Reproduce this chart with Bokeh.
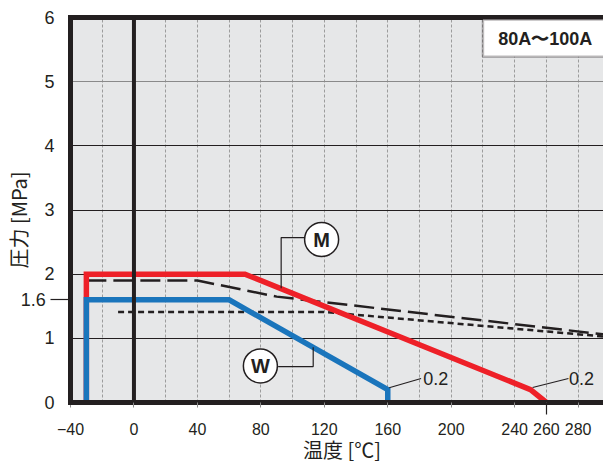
from bokeh.plotting import figure
from bokeh.models import Range1d, LinearAxis, FixedTicker, Span, BoxAnnotation, Label, Grid
from bokeh.core.properties import value
from bokeh.embed import file_html
from bokeh.resources import INLINE

# ---- data ----
m_temp = [-30, -30, 70, 250, 260]
m_pres = [0, 2.0, 2.0, 0.2, 0]
w_temp = [-30, -30, 60, 160, 160]
w_pres = [0, 1.6, 1.6, 0.2, 0]
long_dash_temp = [-30, 40, 90, 300]
long_dash_pres = [1.9, 1.9, 1.65, 1.05]
short_dash_temp = [-10, 120, 300]
short_dash_pres = [1.41, 1.41, 1.02]

x_ticks = [-40, 0, 40, 80, 120, 160, 200, 240, 260, 280]
x_grid = [-20, 20, 40, 60, 80, 100, 120, 140, 160, 180, 200, 220, 240, 260, 280]
y_ticks = [0, 1, 1.6, 2, 3, 4, 5, 6]
y_grid_dark = [1, 2, 3, 4]
y_grid_light = [5]

# annotation anchors
m_circle = (118.3, 2.54)
w_circle = (79.7, 0.57)
m_leader_x = [107.3, 92.8, 92.8]
m_leader_y = [2.57, 2.57, 1.78]
w_leader_x = [90.9, 113.0, 113.0]
w_leader_y = [0.56, 0.56, 0.86]
w_end_leader_x = [160.9, 181.0]
w_end_leader_y = [0.23, 0.374]
m_end_leader_x = [251.3, 273.9]
m_end_leader_y = [0.234, 0.374]
end_label_x = [182.3, 274.3]
end_label_y = [0.374, 0.374]
end_label_text = ["0.2", "0.2"]

DARK = "#231f20"
RED = "#ee2028"
BLUE = "#1a75bc"
NUM_FONT = "Liberation Sans"
CJK_FONT = "'Noto Sans CJK JP', sans-serif"

p = figure(width=603, height=466, x_range=Range1d(-40, 296), y_range=Range1d(0, 6),
           output_backend="svg", toolbar_location=None,
           min_border_left=68, min_border_right=0, min_border_top=17, min_border_bottom=64)
p.background_fill_color = "#e6e7e8"
p.border_fill_color = "white"
p.outline_line_color = None

# grids
p.xgrid.ticker = FixedTicker(ticks=x_grid)
p.xgrid.grid_line_color = "#9c9c9c"
p.xgrid.grid_line_dash = "3 2"
p.xgrid.grid_line_width = 1
p.ygrid.ticker = FixedTicker(ticks=y_grid_dark)
p.ygrid.grid_line_color = DARK
p.ygrid.grid_line_width = 1
p.add_layout(Grid(dimension=1, ticker=FixedTicker(ticks=y_grid_light),
                  grid_line_color="#8a8a8a", grid_line_width=1))

# x axis
xa = p.xaxis[0]
xa.ticker = FixedTicker(ticks=x_ticks, minor_ticks=[260])
xa.major_label_overrides = {-40: "\u221240"}
xa.axis_line_width = 5
xa.axis_line_color = DARK
xa.axis_line_cap = "square"
xa.major_tick_in = 0
xa.major_tick_out = 5
xa.major_tick_line_color = "#8a8a8a"
xa.minor_tick_in = 0
xa.minor_tick_out = 12
xa.minor_tick_line_color = DARK
xa.minor_tick_line_width = 1.2
xa.major_label_text_font = NUM_FONT
xa.major_label_text_font_size = "16px"
xa.major_label_text_color = DARK
xa.major_label_standoff = 8
xa.axis_label = "\u2002温度 [℃]"
xa.axis_label_text_font = CJK_FONT
xa.axis_label_text_font_size = "20px"
xa.axis_label_text_font_style = "normal"
xa.axis_label_text_color = DARK
xa.axis_label_standoff = -3

# y axis
ya = p.yaxis[0]
ya.ticker = FixedTicker(ticks=y_ticks, minor_ticks=[1.6])
ya.major_label_overrides = {1.6: "1.6\u00a0\u2009"}
ya.axis_line_width = 5
ya.axis_line_color = DARK
ya.axis_line_cap = "square"
ya.major_tick_in = 0
ya.major_tick_out = 0
ya.minor_tick_in = 0
ya.minor_tick_out = 20
ya.minor_tick_line_color = DARK
ya.minor_tick_line_width = 1.2
ya.major_label_text_font = NUM_FONT
ya.major_label_text_font_size = "18px"
ya.major_label_text_color = DARK
ya.major_label_standoff = -4
ya.axis_label = "圧力 [MPa]\u3000"
ya.axis_label_text_font = CJK_FONT
ya.axis_label_text_font_size = "20px"
ya.axis_label_text_font_style = "normal"
ya.axis_label_text_color = DARK
ya.axis_label_standoff = -15

# top border
top = LinearAxis(ticker=FixedTicker(ticks=[]), axis_line_width=5, axis_line_color=DARK,
                 axis_line_cap="square", major_tick_out=0, major_tick_in=0,
                 minor_tick_out=0, minor_tick_in=0, major_label_standoff=0,
                 major_label_text_font_size="0px")
p.add_layout(top, "above")

# x = 0 thick line
p.add_layout(Span(location=0, dimension="height", line_color=DARK, line_width=4))

# curves
p.line(long_dash_temp, long_dash_pres, line_color=DARK, line_width=2.5, line_dash="20 7")
p.line(short_dash_temp, short_dash_pres, line_color=DARK, line_width=2.5, line_dash="6 4")
p.line(m_temp, m_pres, line_color=RED, line_width=5.5, line_join="miter")
p.line(w_temp, w_pres, line_color=BLUE, line_width=5.5, line_join="miter")

# leaders
for lx, ly in [(m_leader_x, m_leader_y), (w_leader_x, w_leader_y),
               (w_end_leader_x, w_end_leader_y), (m_end_leader_x, m_end_leader_y)]:
    p.line(lx, ly, line_color=DARK, line_width=1.2)

p.scatter(x=[m_circle[0], w_circle[0]], y=[m_circle[1], w_circle[1]], size=34, marker="circle",
          fill_color="white", line_color=DARK, line_width=1.5)
p.text(x=[m_circle[0], w_circle[0]], y=[m_circle[1], w_circle[1]], text=["M", "W"],
       text_align="center", text_baseline="middle", text_font=value("Liberation Sans"),
       text_font_style="bold", text_font_size="20px", text_color=DARK)
p.text(x=end_label_x, y=end_label_y, text=end_label_text, text_align="left",
       text_baseline="middle", text_font=value(NUM_FONT), text_font_size="18px", text_color=DARK)

# size label box
p.add_layout(BoxAnnotation(left=220, right=320, bottom=5.39, top=5.97, fill_color="white",
                           fill_alpha=1, line_color=DARK, line_width=2.5))
p.add_layout(Label(x=259.3, y=5.67, text="80A\u301c100A", text_align="center",
                   text_baseline="middle", text_font="Liberation Sans", text_font_style="bold",
                   text_font_size="18px", text_color=DARK))

open("out.html", "w").write(file_html(p, INLINE))
